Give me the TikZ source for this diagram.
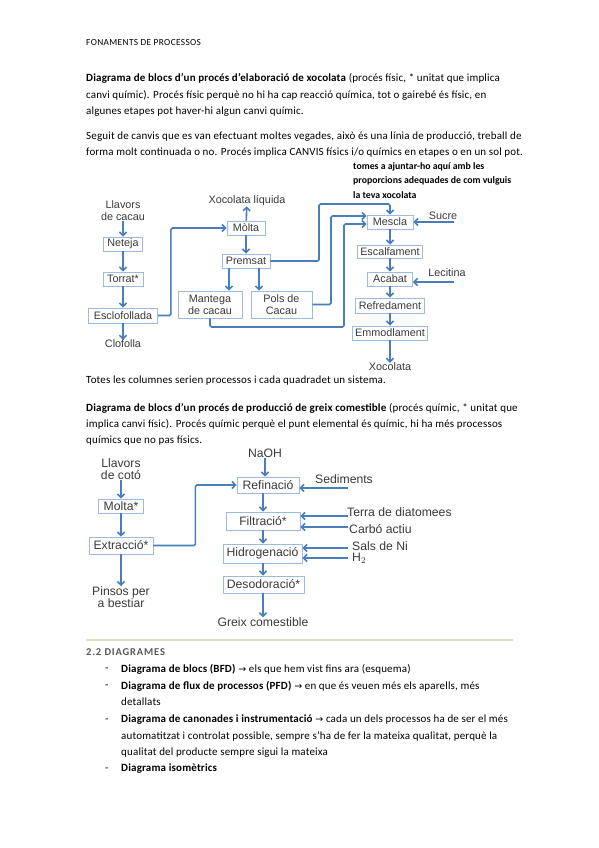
\documentclass[tikz,border=0pt]{standalone}
\usepackage{fontspec}
\setmainfont[LetterSpace=1.5]{Carlito}
\newfontfamily\arialf{Liberation Sans}
\newfontfamily\symf{DejaVu Sans}
\usetikzlibrary{arrows.meta}
\definecolor{arrblue}{HTML}{4A7EBB}
\definecolor{boxblue}{HTML}{9BBBE0}
\definecolor{dtext}{HTML}{3A3A3A}
\definecolor{headgray}{HTML}{595959}
\definecolor{rulegreen}{HTML}{D7E3C3}
\newcommand{\rarr}{{\symf\fontsize{9.5}{10}\selectfont →}}
\begin{document}
\begin{tikzpicture}[x=1pt,y=-1pt,
 para/.style={anchor=west,inner sep=0pt,font=\fontsize{11}{13}\selectfont},
 lbl1/.style={inner sep=0pt,align=center,text=dtext,font=\arialf\fontsize{10.8}{12}\selectfont},
 blk1/.style={lbl1,draw=boxblue,line width=0.8pt,fill=white},
 lbl2/.style={inner sep=0pt,align=center,text=dtext,font=\arialf\fontsize{12.2}{12.5}\selectfont},
 blk2/.style={lbl2,draw=boxblue,line width=0.8pt,fill=white},
 arr/.style={draw=arrblue,line width=1.6pt,rounded corners=1.5pt,-{Straight Barb[length=3.5pt,width=7pt]}},
]
\fill[white] (0,0) rectangle (599,848);
\path[use as bounding box] (0,0) rectangle (599,848);

% ---------- text top ----------
\node[para,font=\fontsize{9.3}{10}\selectfont\addfontfeatures{LetterSpace=4}] (hdr) at (86,43) {FONAMENTS DE PROCESSOS};
\node[para] (p1) at (86,78) {\textbf{Diagrama de blocs d’un procés d’elaboració de xocolata} (procés físic, * unitat que implica};
\node[para] (p2) at (86,95) {canvi químic). Procés físic perquè no hi ha cap reacció química, tot o gairebé és físic, en};
\node[para] (p3) at (86,112) {algunes etapes pot haver-hi algun canvi químic.};
\node[para] (p4) at (86,137) {Seguit de canvis que es van efectuant moltes vegades, això és una línia de producció, treball de};
\node[para] (p5) at (86,153) {forma molt continuada o no. Procés implica CANVIS físics i/o químics en etapes o en un sol pot.};

% ---------- diagram 1 ----------
\node[anchor=north west,inner sep=0pt,align=left,font=\bfseries\fontsize{9.8}{14.5}\selectfont\addfontfeatures{LetterSpace=0}] (note) at (353,162)
 {tomes a ajuntar-ho aquí amb les\\proporcions adequades de com vulguis\\la teva xocolata};

\node[lbl1] (llav) at (123,211) {Llavors\\de cacau};
\node[blk1,minimum width=39pt,minimum height=14pt] (neteja) at (123,244) {Neteja};
\node[blk1,minimum width=40pt,minimum height=14pt] (torrat) at (123,279) {Torrat*};
\node[blk1,minimum width=69pt,minimum height=15pt] (escl) at (123,315.5) {Esclofollada};
\node[lbl1] (clof) at (123,344) {Clofolla};

\node[lbl1] (xliq) at (247,201) {Xocolata líquida};
\node[blk1,minimum width=38pt,minimum height=14pt] (molta) at (246,228) {Mòlta};
\node[blk1,minimum width=48pt,minimum height=14pt] (premsat) at (246,261) {Premsat};
\node[blk1,minimum width=64pt,minimum height=27pt] (mant) at (210,304.5) {Mantega\\de cacau};
\node[blk1,minimum width=61pt,minimum height=27pt] (pols) at (281.5,304.5) {Pols de\\Cacau};

\node[blk1,minimum width=46pt,minimum height=14pt] (mescla) at (390,222) {Mescla};
\node[blk1,minimum width=65pt,minimum height=13pt] (escal) at (390,251.5) {Escalfament};
\node[blk1,minimum width=45pt,minimum height=14pt] (acabat) at (390,279) {Acabat};
\node[blk1,minimum width=69pt,minimum height=15pt] (refr) at (390,305.5) {Refredament};
\node[blk1,minimum width=75pt,minimum height=14pt] (emm) at (390,333) {Emmodlament};
\node[lbl1] (xoc) at (390,367) {Xocolata};
\node[lbl1] (sucre) at (443,216) {Sucre};
\node[lbl1] (lec) at (447,273) {Lecitina};
\coordinate (sucreS) at (454,222);
\coordinate (lecS) at (454,282);

\draw[arr] (llav) -- (neteja);
\draw[arr] (neteja) -- (torrat);
\draw[arr] (torrat) -- (escl);
\draw[arr] (escl) -- (clof);
\draw[arr] (escl.east) -- ++(13,0) |- (molta.west);
\draw[arr] (molta) -- (xliq);
\draw[arr] (molta) -- (premsat);
\draw[arr] ([xshift=-17pt]premsat.south) -- ([xshift=-17pt]premsat.south |- mant.north);
\draw[arr] ([xshift=13pt]premsat.south) -- ([xshift=13pt]premsat.south |- pols.north);
\draw[arr] (premsat.east) -| (319,204) -| (mescla.north);
\draw[arr] (pols.east) -| (331,216) -- ([yshift=6pt]mescla.west);
\draw[arr] (mant.south) -- (210,327) -| (344,224) -- ([yshift=-2pt]mescla.west);
\draw[arr] (sucreS) -- (mescla.east);
\draw[arr] (mescla) -- (escal);
\draw[arr] (escal) -- (acabat);
\draw[arr] (lecS) -- ([yshift=-3pt]acabat.east);
\draw[arr] (acabat) -- (refr);
\draw[arr] (refr) -- (emm);
\draw[arr] (emm) -- (xoc);

% ---------- middle text ----------
\node[para] (p6) at (86,381) {Totes les columnes serien processos i cada quadradet un sistema.};
\node[para] (p7) at (86,408) {\textbf{Diagrama de blocs d’un procés de producció de greix comestible} (procés químic, * unitat que};
\node[para] (p8) at (86,424) {implica canvi físic). Procés químic perquè el punt elemental és químic, hi ha més processos};
\node[para] (p9) at (86,441) {químics que no pas físics.};

% ---------- diagram 2 ----------
\node[lbl2] (llav2) at (121,469) {Llavors\\de cotó};
\node[blk2,minimum width=45pt,minimum height=14pt] (molta2) at (121,506) {Molta*};
\node[blk2,minimum width=64pt,minimum height=17pt] (extr) at (121,545.5) {Extracció*};
\node[lbl2] (pins) at (121,597) {Pinsos per\\a bestiar};

\coordinate (colx) at (263,0);
\node[lbl2] (naoh) at (265,453) {NaOH};
\node[blk2,minimum width=62pt,minimum height=16pt] (refin) at (268,485) {Refinació};
\node[blk2,minimum width=74pt,minimum height=18pt] (filt) at (263,521) {Filtració*};
\node[blk2,minimum width=79pt,minimum height=19pt] (hidro) at (262.5,553.5) {Hidrogenació};
\node[blk2,minimum width=81pt,minimum height=17pt] (deso) at (263.5,584.5) {Desodoració*};
\node[lbl2] (greix) at (263,622) {Greix comestible};

\node[lbl2,anchor=west] (sed) at (315,479) {Sediments};
\node[lbl2,anchor=west] (terra) at (347,512) {Terra de diatomees};
\node[lbl2,anchor=west] (carbo) at (349,529) {Carbó actiu};
\node[lbl2,anchor=west] (sals) at (352,546) {Sals de Ni};
\node[lbl2,anchor=west] (h2) at (352,558) {H$_2$};
\coordinate (sedS) at (348,488);
\coordinate (terraS) at (348,516);
\coordinate (carboS) at (348,527);
\coordinate (salsS) at (348,548);
\coordinate (h2S) at (348,558);

\draw[arr] (llav2) -- (molta2);
\draw[arr] (molta2) -- (extr);
\draw[arr] (extr) -- (pins);
\draw[arr] (extr.east) -- ++(42,0) |- (refin.west);
\draw[arr] (naoh.south) -- (naoh.south |- refin.north);
\draw[arr] (sedS) -- (sedS -| refin.east);
\draw[arr] (refin.south -| colx) -- (filt.north -| colx);
\draw[arr] (filt.south -| colx) -- (hidro.north -| colx);
\draw[arr] (hidro.south -| colx) -- (deso.north -| colx);
\draw[arr] (deso.south -| colx) -- (greix.north -| colx);
\draw[arr] (terraS) -- (terraS -| filt.east);
\draw[arr] (carboS) -- (carboS -| filt.east);
\draw[arr] (salsS) -- (salsS -| hidro.east);
\draw[arr] (h2S) -- (h2S -| hidro.east);

% ---------- bottom text ----------
\draw[rulegreen,line width=1.2pt] (86,640) -- (513,640);
\node[para,text=headgray,font=\bfseries\fontsize{10.5}{11}\selectfont\addfontfeatures{LetterSpace=8}] (h22) at (86,652) {2.2 DIAGRAMES};
\foreach \yy/\nm in {669/d1,686/d2,720/d3,769/d4}{
  \node[para] (\nm) at (105,\yy) {-\vphantom{Dg}};
}
\node[para] (l1) at (121,669) {\textbf{Diagrama de blocs (BFD)} \rarr{} els que hem vist fins ara (esquema)};
\node[para] (l2) at (121,686) {\textbf{Diagrama de flux de processos (PFD)} \rarr{} en que és veuen més els aparells, més};
\node[para] (l3) at (121,703) {detallats\vphantom{Dg}};
\node[para] (l4) at (121,720) {\textbf{Diagrama de canonades i instrumentació} \rarr{} cada un dels processos ha de ser el més};
\node[para] (l5) at (121,736) {automatitzat i controlat possible, sempre s’ha de fer la mateixa qualitat, perquè la};
\node[para] (l6) at (121,753) {qualitat del producte sempre sigui la mateixa};
\node[para] (l7) at (121,769) {\textbf{Diagrama isomètrics}};
\end{tikzpicture}
\end{document}
